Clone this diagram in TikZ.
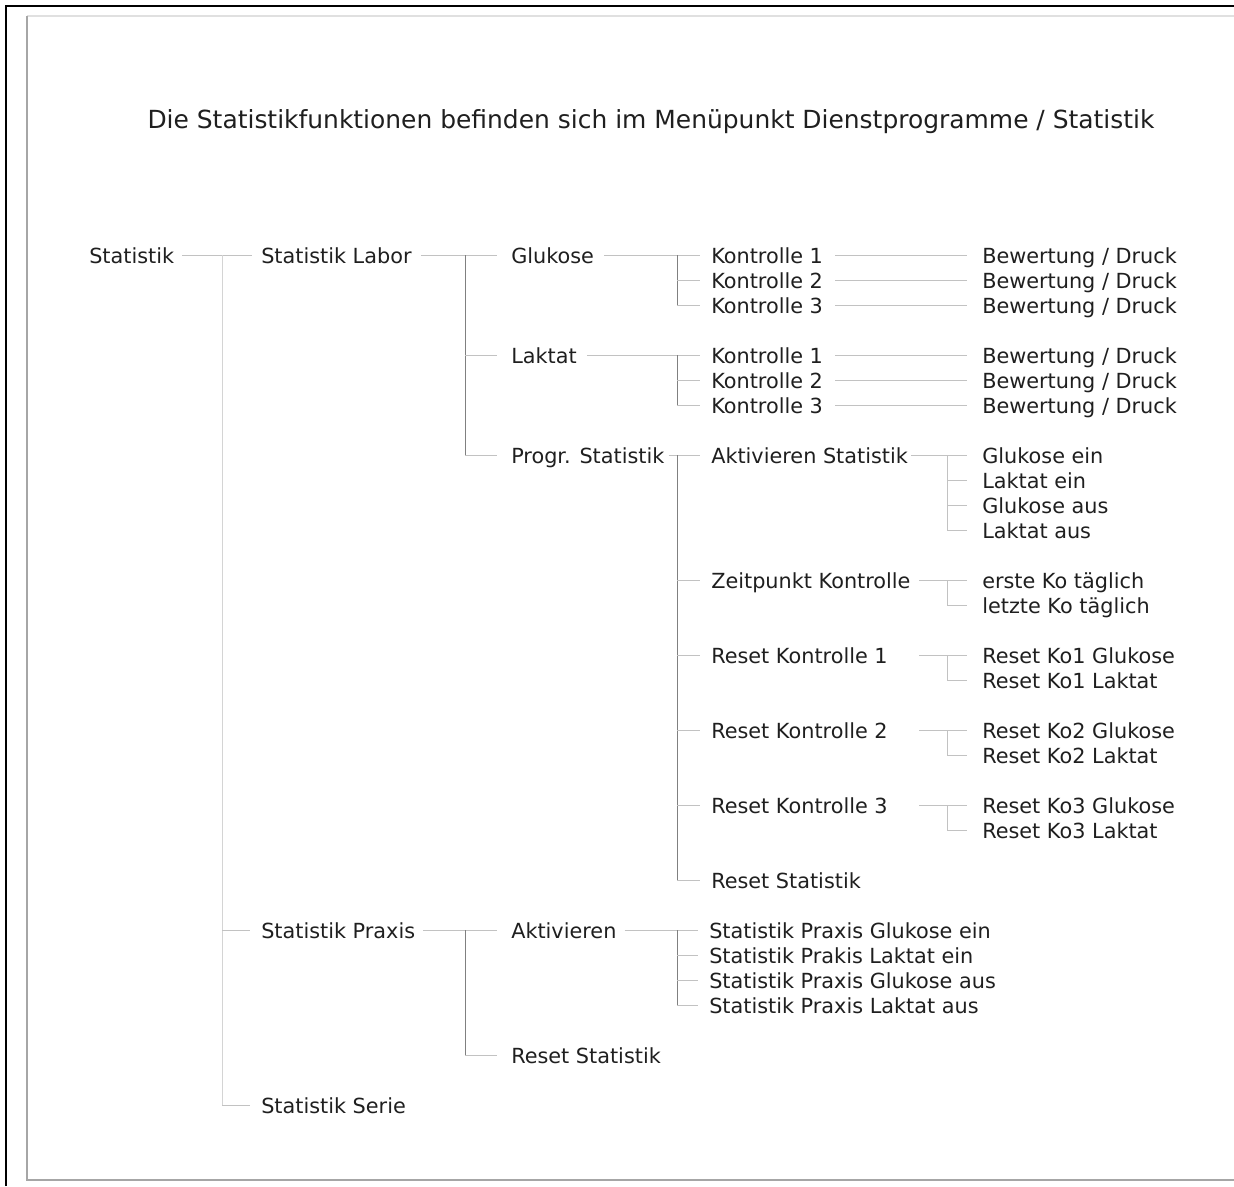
\documentclass[tikz,border=0pt]{standalone}
\usepackage{fontspec}
\setmainfont{DejaVu Sans}
\usepackage{tikz}
\usetikzlibrary{calc}

\tikzset{
  lbl/.style={anchor=west, inner sep=0pt, text height=13pt, text depth=0pt,
    font=\fontsize{15.6}{18}\selectfont, text=black!88},
  ln/.style={draw=black!24, line width=0.75pt},
  lnpale/.style={draw=black!17, line width=0.75pt},
  lndark/.style={draw=black!50, line width=0.75pt},
}

\begin{document}
\begin{tikzpicture}[x=0.75pt,y=-0.75pt]
\useasboundingbox (0,0) rectangle (1234,1186);
% frame
\draw[black, line width=1.6pt] (6,1186) -- (6,6) -- (1234,6);
\draw[black!12, line width=1pt] (27,16) -- (1234,16);
\draw[black!35, line width=1pt] (1234,1180) -- (27,1180) -- (27,16);

\node[lbl, anchor=center, font=\fontsize{18.7}{22}\selectfont] (title) at (651,120)
  {Die Statistikfunktionen befinden sich im Menüpunkt Dienstprogramme / Statistik};

% columns
\coordinate (v1) at (222,0);
\coordinate (v2) at (465,0);
\coordinate (v3) at (677,0);
\coordinate (v4) at (947,0);

\node[lbl] (stat) at (89,255) {Statistik};
\node[lbl] (labor) at (261,255) {Statistik Labor};
\node[lbl] (praxis) at (261,930) {Statistik Praxis};
\node[lbl] (serie) at (261,1105) {Statistik Serie};

\node[lbl] (gluk) at (511,255) {Glukose};
\node[lbl] (lakt) at (511,355) {Laktat};
\node[lbl] (progr) at (511,455) {Progr. Statistik};
\node[lbl] (pakt) at (511,930) {Aktivieren};
\node[lbl] (preset) at (511,1055) {Reset Statistik};

\node[lbl] (gk1) at (711,255) {Kontrolle 1};
\node[lbl] (gk2) at (711,280) {Kontrolle 2};
\node[lbl] (gk3) at (711,305) {Kontrolle 3};
\node[lbl] (lk1) at (711,355) {Kontrolle 1};
\node[lbl] (lk2) at (711,380) {Kontrolle 2};
\node[lbl] (lk3) at (711,405) {Kontrolle 3};

\node[lbl] (gb1) at (982,255) {Bewertung / Druck};
\node[lbl] (gb2) at (982,280) {Bewertung / Druck};
\node[lbl] (gb3) at (982,305) {Bewertung / Druck};
\node[lbl] (lb1) at (982,355) {Bewertung / Druck};
\node[lbl] (lb2) at (982,380) {Bewertung / Druck};
\node[lbl] (lb3) at (982,405) {Bewertung / Druck};

\node[lbl] (akt) at (711,455) {Aktivieren Statistik};
\node[lbl] (zeit) at (711,580) {Zeitpunkt Kontrolle};
\node[lbl] (rk1) at (711,655) {Reset Kontrolle 1};
\node[lbl] (rk2) at (711,730) {Reset Kontrolle 2};
\node[lbl] (rk3) at (711,805) {Reset Kontrolle 3};
\node[lbl] (rstat) at (711,880) {Reset Statistik};

\node[lbl] (aglein) at (982,455) {Glukose ein};
\node[lbl] (alkein) at (982,480) {Laktat ein};
\node[lbl] (aglaus) at (982,505) {Glukose aus};
\node[lbl] (alkaus) at (982,530) {Laktat aus};
\node[lbl] (erste) at (982,580) {erste Ko täglich};
\node[lbl] (letzte) at (982,605) {letzte Ko täglich};
\node[lbl] (r1g) at (982,655) {Reset Ko1 Glukose};
\node[lbl] (r1l) at (982,680) {Reset Ko1 Laktat};
\node[lbl] (r2g) at (982,730) {Reset Ko2 Glukose};
\node[lbl] (r2l) at (982,755) {Reset Ko2 Laktat};
\node[lbl] (r3g) at (982,805) {Reset Ko3 Glukose};
\node[lbl] (r3l) at (982,830) {Reset Ko3 Laktat};

\node[lbl] (spg1) at (709,930) {Statistik Praxis Glukose ein};
\node[lbl] (spl1) at (709,955) {Statistik Prakis Laktat ein};
\node[lbl] (spg0) at (709,980) {Statistik Praxis Glukose aus};
\node[lbl] (spl0) at (709,1005) {Statistik Praxis Laktat aus};

% Statistik
\draw[ln] ($(stat.east)+(8,0)$) -- ($(labor.west)+(-9,0)$);
\draw[lnpale] (v1 |- stat) -- (v1 |- serie);
\draw[ln] (v1 |- praxis) -- ($(praxis.west)+(-11,0)$);
\draw[ln] (v1 |- serie) -- ($(serie.west)+(-11,0)$);

% Statistik Labor
\draw[ln] ($(labor.east)+(9,0)$) -- ($(gluk.west)+(-14,0)$);
\draw[lndark] (v2 |- labor) -- (v2 |- progr);
\draw[ln] (v2 |- lakt) -- ($(lakt.west)+(-14,0)$);
\draw[ln] (v2 |- progr) -- ($(progr.west)+(-14,0)$);

% Glukose / Laktat
\draw[ln] ($(gluk.east)+(10,0)$) -- ($(gk1.west)+(-11,0)$);
\draw[lndark] (v3 |- gk1) -- (v3 |- gk3);
\draw[ln] (v3 |- gk2) -- ($(gk2.west)+(-11,0)$);
\draw[ln] (v3 |- gk3) -- ($(gk3.west)+(-11,0)$);
\draw[ln] ($(lakt.east)+(10,0)$) -- ($(lk1.west)+(-11,0)$);
\draw[lndark] (v3 |- lk1) -- (v3 |- lk3);
\draw[ln] (v3 |- lk2) -- ($(lk2.west)+(-11,0)$);
\draw[ln] (v3 |- lk3) -- ($(lk3.west)+(-11,0)$);

\draw[ln] ($(gb1.west)+(-147,0)$) -- ($(gb1.west)+(-15,0)$);
\draw[ln] ($(gb2.west)+(-147,0)$) -- ($(gb2.west)+(-15,0)$);
\draw[ln] ($(gb3.west)+(-147,0)$) -- ($(gb3.west)+(-15,0)$);
\draw[ln] ($(lb1.west)+(-147,0)$) -- ($(lb1.west)+(-15,0)$);
\draw[ln] ($(lb2.west)+(-147,0)$) -- ($(lb2.west)+(-15,0)$);
\draw[ln] ($(lb3.west)+(-147,0)$) -- ($(lb3.west)+(-15,0)$);

% Progr. Statistik
\draw[ln] ($(progr.east)+(4,0)$) -- ($(akt.west)+(-11,0)$);
\draw[lndark] (v3 |- akt) -- (v3 |- rstat);
\draw[ln] (v3 |- zeit) -- ($(zeit.west)+(-11,0)$);
\draw[ln] (v3 |- rk1) -- ($(rk1.west)+(-11,0)$);
\draw[ln] (v3 |- rk2) -- ($(rk2.west)+(-11,0)$);
\draw[ln] (v3 |- rk3) -- ($(rk3.west)+(-11,0)$);
\draw[ln] (v3 |- rstat) -- ($(rstat.west)+(-11,0)$);

% Aktivieren Statistik
\draw[ln] ($(akt.east)+(3,0)$) -- ($(aglein.west)+(-15,0)$);
\draw[ln] (v4 |- aglein) -- (v4 |- alkaus);
\draw[ln] (v4 |- alkein) -- ($(alkein.west)+(-15,0)$);
\draw[ln] (v4 |- aglaus) -- ($(aglaus.west)+(-15,0)$);
\draw[ln] (v4 |- alkaus) -- ($(alkaus.west)+(-15,0)$);

% Zeitpunkt / Reset Kontrolle
\draw[ln] ($(erste.west)+(-63,0)$) -- ($(erste.west)+(-15,0)$);
\draw[ln] (v4 |- erste) -- (v4 |- letzte) -- ($(letzte.west)+(-15,0)$);
\draw[ln] ($(r1g.west)+(-63,0)$) -- ($(r1g.west)+(-15,0)$);
\draw[ln] (v4 |- r1g) -- (v4 |- r1l) -- ($(r1l.west)+(-15,0)$);
\draw[ln] ($(r2g.west)+(-63,0)$) -- ($(r2g.west)+(-15,0)$);
\draw[ln] (v4 |- r2g) -- (v4 |- r2l) -- ($(r2l.west)+(-15,0)$);
\draw[ln] ($(r3g.west)+(-63,0)$) -- ($(r3g.west)+(-15,0)$);
\draw[ln] (v4 |- r3g) -- (v4 |- r3l) -- ($(r3l.west)+(-15,0)$);

% Statistik Praxis
\draw[ln] ($(praxis.east)+(8,0)$) -- ($(pakt.west)+(-14,0)$);
\draw[lndark] (v2 |- pakt) -- (v2 |- preset);
\draw[ln] (v2 |- preset) -- ($(preset.west)+(-14,0)$);
\draw[ln] ($(pakt.east)+(8,0)$) -- ($(spg1.west)+(-11,0)$);
\draw[lndark] (v3 |- spg1) -- (v3 |- spl0);
\draw[ln] (v3 |- spl1) -- ($(spl1.west)+(-11,0)$);
\draw[ln] (v3 |- spg0) -- ($(spg0.west)+(-11,0)$);
\draw[ln] (v3 |- spl0) -- ($(spl0.west)+(-11,0)$);
\end{tikzpicture}
\end{document}
